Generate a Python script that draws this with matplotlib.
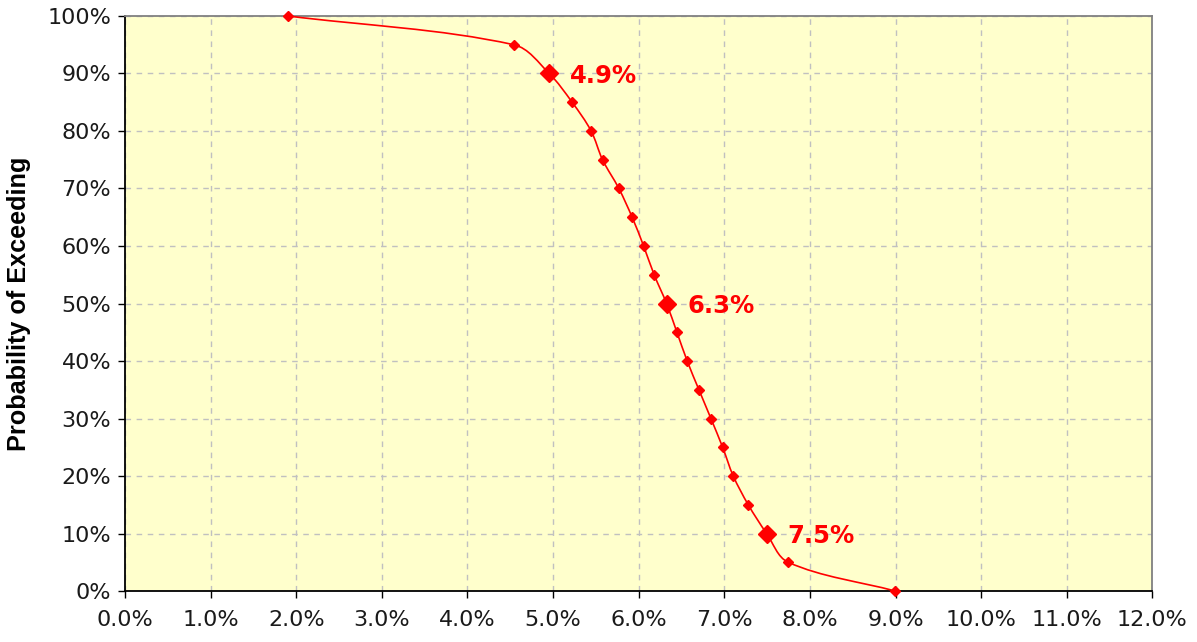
import numpy as np
import matplotlib
matplotlib.use("Agg")
import matplotlib.pyplot as plt
from matplotlib.path import Path
from matplotlib.patches import PathPatch
from matplotlib.ticker import FuncFormatter, MultipleLocator

# return (%) at each probability of exceeding (%)
returns = [1.905, 4.542, 4.955, 5.223, 5.445, 5.578, 5.769, 5.924, 6.058, 6.181,
           6.326, 6.447, 6.567, 6.704, 6.844, 6.981, 7.105, 7.280, 7.495, 7.747, 8.997]
prob = [100, 95, 90, 85, 80, 75, 70, 65, 60, 55,
        50, 45, 40, 35, 30, 25, 20, 15, 10, 5, 0]

# highlighted points and their labels
hi_prob = [90, 50, 10]
hi_labels = ["4.9%", "6.3%", "7.5%"]

red = "#ff0000"
fig = plt.figure(figsize=(11.97, 6.42), dpi=100)
ax = fig.add_axes([0.1044, 0.0794, 0.8583, 0.8957])
ax.set_facecolor("#ffffcc")
ax.set_xlim(0, 12)
ax.set_ylim(0, 100)

# smoothed line (Excel style bezier), built in screen-like space
W, H = 1027.0, 575.0
pts = np.column_stack([np.array(returns) / 12 * W, np.array(prob) / 100 * H])
n = len(pts)


def unit(v):
    return v / np.hypot(*v)


verts = [tuple(pts[0])]
codes = [Path.MOVETO]
for i in range(n - 1):
    p0 = pts[max(i - 1, 0)]
    p1 = pts[i]
    p2 = pts[i + 1]
    p3 = pts[min(i + 2, n - 1)]
    d = np.hypot(*(p2 - p1)) / 3
    c1 = p1 + d * unit(p2 - p0)
    c2 = p2 - d * unit(p3 - p1)
    verts += [tuple(c1), tuple(c2), tuple(p2)]
    codes += [Path.CURVE4] * 3
verts = [(x / W * 12, y / H * 100) for x, y in verts]
ax.add_patch(PathPatch(Path(verts, codes), fill=False, edgecolor=red, lw=1.2, zorder=3))

ax.plot(returns, prob, linestyle="none", marker="D", ms=5.3, color=red, zorder=4, clip_on=False)

for p, lab in zip(hi_prob, hi_labels):
    x = returns[prob.index(p)]
    ax.plot([x], [p], linestyle="none", marker="D", ms=9.0, color=red, zorder=5)
    ax.annotate(lab, (x, p), xytext=(15, -2), textcoords="offset points",
                ha="left", va="center", color=red, fontsize=17.5, fontweight="bold")

ax.xaxis.set_major_locator(MultipleLocator(1))
ax.yaxis.set_major_locator(MultipleLocator(10))
ax.xaxis.set_major_formatter(FuncFormatter(lambda v, _: f"{v:.1f}%"))
ax.yaxis.set_major_formatter(FuncFormatter(lambda v, _: f"{v:.0f}%"))
ax.tick_params(axis="both", labelsize=16, length=5, width=1, direction="out",
               colors="#000000", pad=5)
ax.tick_params(axis="x", pad=9)
for lbl in ax.get_xticklabels() + ax.get_yticklabels():
    lbl.set_color("#1a1a1a")

ax.grid(True, color="#c0c0c0", linestyle=(0, (4, 4)), linewidth=1)
ax.set_axisbelow(True)

for s in ["top", "right"]:
    ax.spines[s].set_color("#808080")
    ax.spines[s].set_linewidth(1.3)
for s in ["left", "bottom"]:
    ax.spines[s].set_color("#000000")
    ax.spines[s].set_linewidth(1.3)

ax.set_ylabel("Probability of Exceeding", fontsize=18.2, fontweight="bold",
              family="Liberation Sans", labelpad=12)

fig.savefig("out.png", dpi=100)
